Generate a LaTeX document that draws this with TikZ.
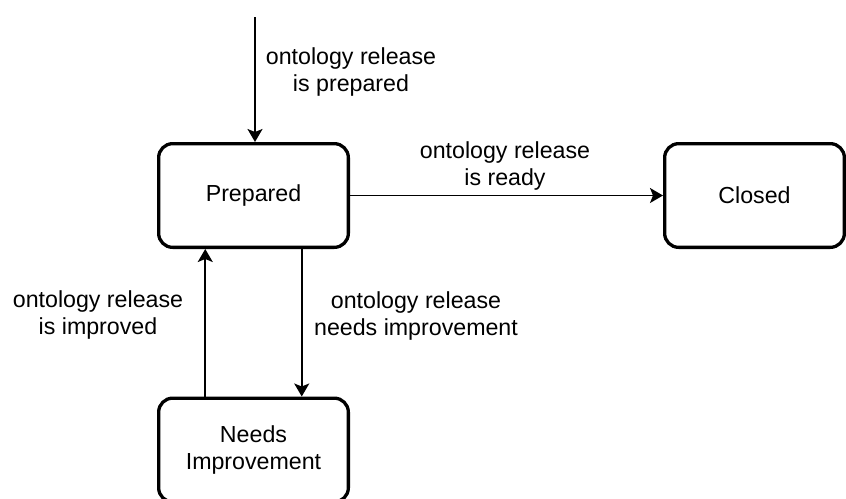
\documentclass[tikz,border=0pt]{standalone}
\usepackage{fontspec}
\setmainfont{Liberation Sans}
\usetikzlibrary{arrows.meta,calc}
\begin{document}
\begin{tikzpicture}[x=1pt,y=-1pt,
  state/.style={draw, line width=3.3pt, rounded corners=14pt,
    minimum width=189.7pt, minimum height=103.7pt, inner sep=0pt,
    align=center, font=\fontsize{23.2}{27}\selectfont},
  lbl/.style={align=center, inner sep=0pt, font=\fontsize{23.2}{27}\selectfont},
  flow/.style={line width=1.6pt, -{Stealth[length=13pt,width=15pt,inset=3pt]}}]
\useasboundingbox (0,0) rectangle (846,498);

% states
\node[state] (P) at (253.5,195.5) {Prepared};
\node[state, minimum width=179.7pt] (C) at (754.5,195.5) {Closed};
\node[state] (N) at (253.5,450) {Needs\\Improvement};

% entry transition
\coordinate (src) at (255,17);
\draw[flow] (src) -- (src |- P.north);

% transitions between states
\draw[flow] (P.east) -- (C.west);
\draw[flow] ($(P.south west)!0.75!(P.south east)$) -- ($(N.north west)!0.75!(N.north east)$);
\draw[flow] ($(N.north west)!0.25!(N.north east)$) -- ($(P.south west)!0.25!(P.south east)$);

% transition labels
\node[lbl] (lprep) at (351,72) {ontology release\\is prepared};
\node[lbl] (lready) at (505,166) {ontology release\\is ready};
\node[lbl] (limp) at (98,315) {ontology release\\is improved};
\node[lbl] (lneed) at (416,316) {ontology release\\needs improvement};
\end{tikzpicture}
\end{document}
